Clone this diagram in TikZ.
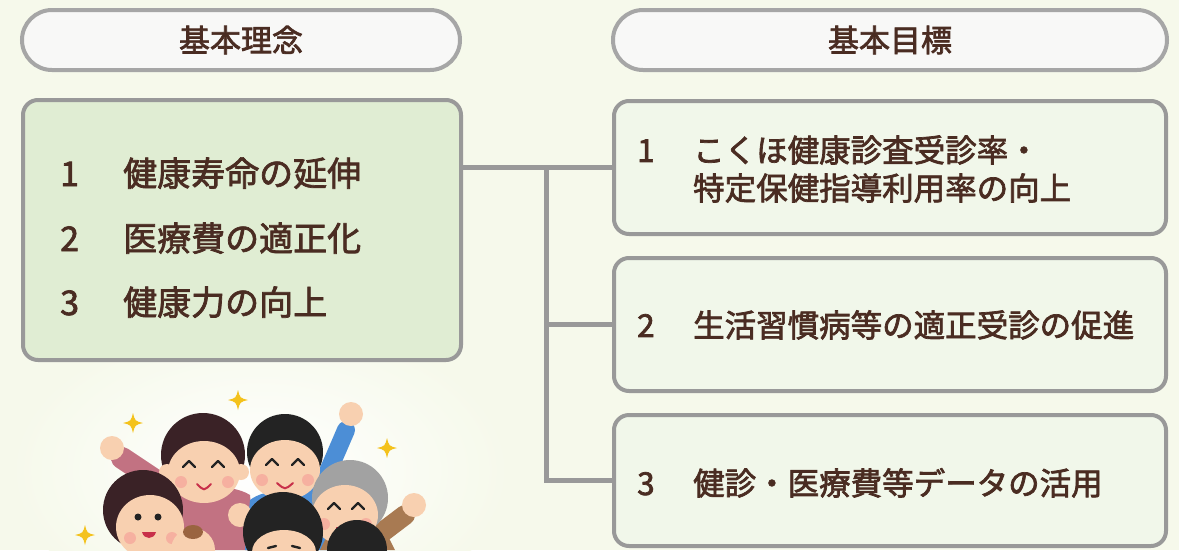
\documentclass[tikz,border=0pt]{standalone}
\usepackage{fontspec}
\setmainfont{Noto Sans CJK JP}
\usetikzlibrary{calc}
% slightly heavier strokes for the labels (fill + outline text rendering)
\newcommand\heavytext[1]{\special{pdf:literal direct 2 Tr 0.7 w}#1\special{pdf:literal direct 0 Tr}}
\definecolor{bgc}{HTML}{F6F9EB}
\definecolor{pillfill}{HTML}{F8F8F7}
\definecolor{pillline}{HTML}{A6A6A6}
\definecolor{boxline}{HTML}{999999}
\definecolor{leftfill}{HTML}{E0EDD3}
\definecolor{rightfill}{HTML}{F1F7EA}
\definecolor{txt}{HTML}{4A2C22}
\definecolor{starc}{HTML}{F4C21C}
\definecolor{skin}{HTML}{F8D0B0}
\definecolor{cheek}{HTML}{F6B0A0}
\definecolor{hairdark}{HTML}{3A2226}
\definecolor{hairblack}{HTML}{232323}
\definecolor{hairgray}{HTML}{A2A2A2}
\definecolor{hairbrown}{HTML}{9A6440}
\definecolor{pinkshirt}{HTML}{C27282}
\definecolor{blueshirt}{HTML}{4C8ED6}
\definecolor{brownshirt}{HTML}{A87A52}
\definecolor{mouthc}{HTML}{C8304A}
\tikzset{
  pill/.style={draw=pillline, line width=4pt, fill=pillfill, rounded corners=30pt,
    text=txt, font=\fontsize{31}{36}\selectfont, inner sep=0pt},
  leftbox/.style={draw=boxline, line width=4pt, fill=leftfill, rounded corners=15pt, inner sep=0pt},
  rightbox/.style={draw=boxline, line width=4pt, fill=rightfill, rounded corners=15pt, inner sep=0pt},
  ltext/.style={anchor=west, text=txt, inner sep=0pt, font=\fontsize{34}{40}\selectfont,
    text height=30pt, text depth=4pt},
  rtext/.style={anchor=west, text=txt, inner sep=0pt, font=\fontsize{31.5}{38}\selectfont,
    text height=27.7pt, text depth=3.8pt},
  link/.style={draw=boxline, line width=5pt},
  sparkle/.pic={\fill[starc] (0,-10) .. controls (2,-2) .. (10,0) .. controls (2,2) .. (0,10)
      .. controls (-2,2) .. (-10,0) .. controls (-2,-2) .. cycle;},
  eye/.style={draw=hairblack, line width=2.4pt, line cap=round, line join=round},
}
\begin{document}
\begin{tikzpicture}[x=1pt,y=-1pt]
% canvas
\fill[bgc] (0,0) rectangle (1179,550);
\useasboundingbox (0,0) rectangle (1179,550);
\shade[inner color=white, outer color=bgc] (260,470) ellipse (250pt and 150pt);

% headings
\node[pill, minimum width=438pt, minimum height=60pt] (h1) at (241,40) {\color{txt}\heavytext{基本理念}};
\node[pill, minimum width=554pt, minimum height=60pt] (h2) at (890,40) {\color{txt}\heavytext{基本目標}};

% boxes
\node[leftbox, minimum width=438pt, minimum height=260pt] (lb) at (242,230) {};
\node[rightbox, minimum width=552pt, minimum height=133pt] (r1) at (890,167.5) {};
\node[rightbox, minimum width=552pt, minimum height=133pt] (r2) at (890,324.5) {};
\node[rightbox, minimum width=552pt, minimum height=131pt] (r3) at (890,480.5) {};

% philosophy items
\node[ltext] (l1) at (60,173) {\color{txt}\heavytext{\makebox[63pt][l]{1}健康寿命の延伸}};
\node[ltext] (l2) at (60,238) {\color{txt}\heavytext{\makebox[63pt][l]{2}医療費の適正化}};
\node[ltext] (l3) at (60,302) {\color{txt}\heavytext{\makebox[63pt][l]{3}健康力の向上}};

% goal items
\node[rtext] (t1a) at (637,150) {\color{txt}\heavytext{\makebox[56pt][l]{1}こくほ健康診査受診率・}};
\node[rtext] (t1b) at (693,188) {\color{txt}\heavytext{特定保健指導利用率の向上}};
\node[rtext] (t2) at (637,325) {\color{txt}\heavytext{\makebox[56pt][l]{2}生活習慣病等の適正受診の促進}};
\node[rtext] (t3) at (637,483) {\color{txt}\heavytext{\makebox[56pt][l]{3}健診・医療費等データの活用}};

% connectors
\coordinate (trunk) at (546,0);
\draw[link] (lb.east |- r1.west) -- (r1.west);
\draw[link] (trunk |- r1.west) |- (r3.west);
\draw[link] (trunk |- r2.west) -- (r2.west);

% family illustration
\begin{scope}
\clip (0,370) rectangle (600,550);
\pic at (238,400) {sparkle};
\pic at (133,423) {sparkle};
\pic at (387,448) {sparkle};
\pic at (85,535) {sparkle};
% woman in pink, waving
\draw[pinkshirt, line width=22pt, line cap=round] (185,500) -- (122,458);
\fill[skin] (112,448) circle (12pt);
\fill[pinkshirt] (160,550) -- (165,505) .. controls (180,485) and (230,482) .. (250,495) -- (255,550) -- cycle;
% man in blue, fist raised
\fill[blueshirt] (245,550) -- (250,500) .. controls (265,488) and (305,486) .. (322,495) -- (328,550) -- cycle;
\draw[blueshirt, line width=18pt, line cap=round] (318,495) -- (346,430);
\fill[skin] (351,414) circle (12pt);
% grandmother, waving
\draw[brownshirt, line width=20pt, line cap=round] (372,540) -- (405,515);
\fill[skin] (414,505) circle (12pt);
\fill[brownshirt] (320,550) -- (330,530) -- (385,530) -- (395,550) -- cycle;
% woman in pink: head
\fill[hairdark] (203,455) circle (42pt);
\fill[skin] (167,472) circle (8pt);
\fill[skin] (241,472) circle (8pt);
\fill[skin] (204,472) ellipse (36pt and 31pt);
\fill[cheek] (181,482) circle (6pt);
\fill[cheek] (228,482) circle (6pt);
\draw[eye] (183,467) -- (189,461) -- (195,467);
\draw[eye] (212,467) -- (218,461) -- (224,467);
\draw[mouthc, line width=2pt, line cap=round] (197,484) .. controls (204,491) .. (211,484);
% man in blue: head
\fill[hairblack] (285,452) circle (38pt);
\fill[skin] (285,470) ellipse (35pt and 30pt);
\fill[cheek] (262,480) circle (6pt);
\fill[cheek] (308,480) circle (6pt);
\draw[eye] (266,465) -- (272,459) -- (278,465);
\draw[eye] (292,465) -- (298,459) -- (304,465);
\draw[mouthc, line width=2pt, line cap=round] (277,483) .. controls (285,490) .. (293,483);
% grandmother: head
\fill[hairgray] (350,498) circle (38pt);
\fill[skin] (345,515) ellipse (33pt and 30pt);
\fill[cheek] (324,524) circle (6pt);
\fill[cheek] (366,524) circle (6pt);
\draw[eye] (328,509) -- (334,503) -- (340,509);
\draw[eye] (352,509) -- (358,503) -- (364,509);
\fill[mouthc] (336,527) -- (354,527) .. controls (352,537) and (338,537) .. cycle;
% young mother: head
\fill[hairdark] (143,510) circle (40pt);
\fill[skin] (150,527) ellipse (34pt and 32pt);
\fill[cheek] (130,538) circle (6pt);
\fill[cheek] (172,538) circle (6pt);
\fill[hairblack] (138,517) circle (3.5pt);
\fill[hairblack] (158,517) circle (3.5pt);
\fill[mouthc] (142,532) -- (156,532) .. controls (154,540) and (144,540) .. cycle;
% baby
\fill[skin] (193,550) circle (22pt);
\fill[hairbrown] (193,532) ellipse (10pt and 7pt);
% raised little hand
\fill[skin] (240,515) circle (12pt);
% children in front
\fill[hairblack] (283,532) circle (40pt);
\fill[skin] (284,552) ellipse (32pt and 22pt);
\draw[eye] (268,548) -- (276,546);
\draw[eye] (292,546) -- (300,548);
\fill[hairblack] (357,550) circle (30pt);
\end{scope}
\end{tikzpicture}
\end{document}
